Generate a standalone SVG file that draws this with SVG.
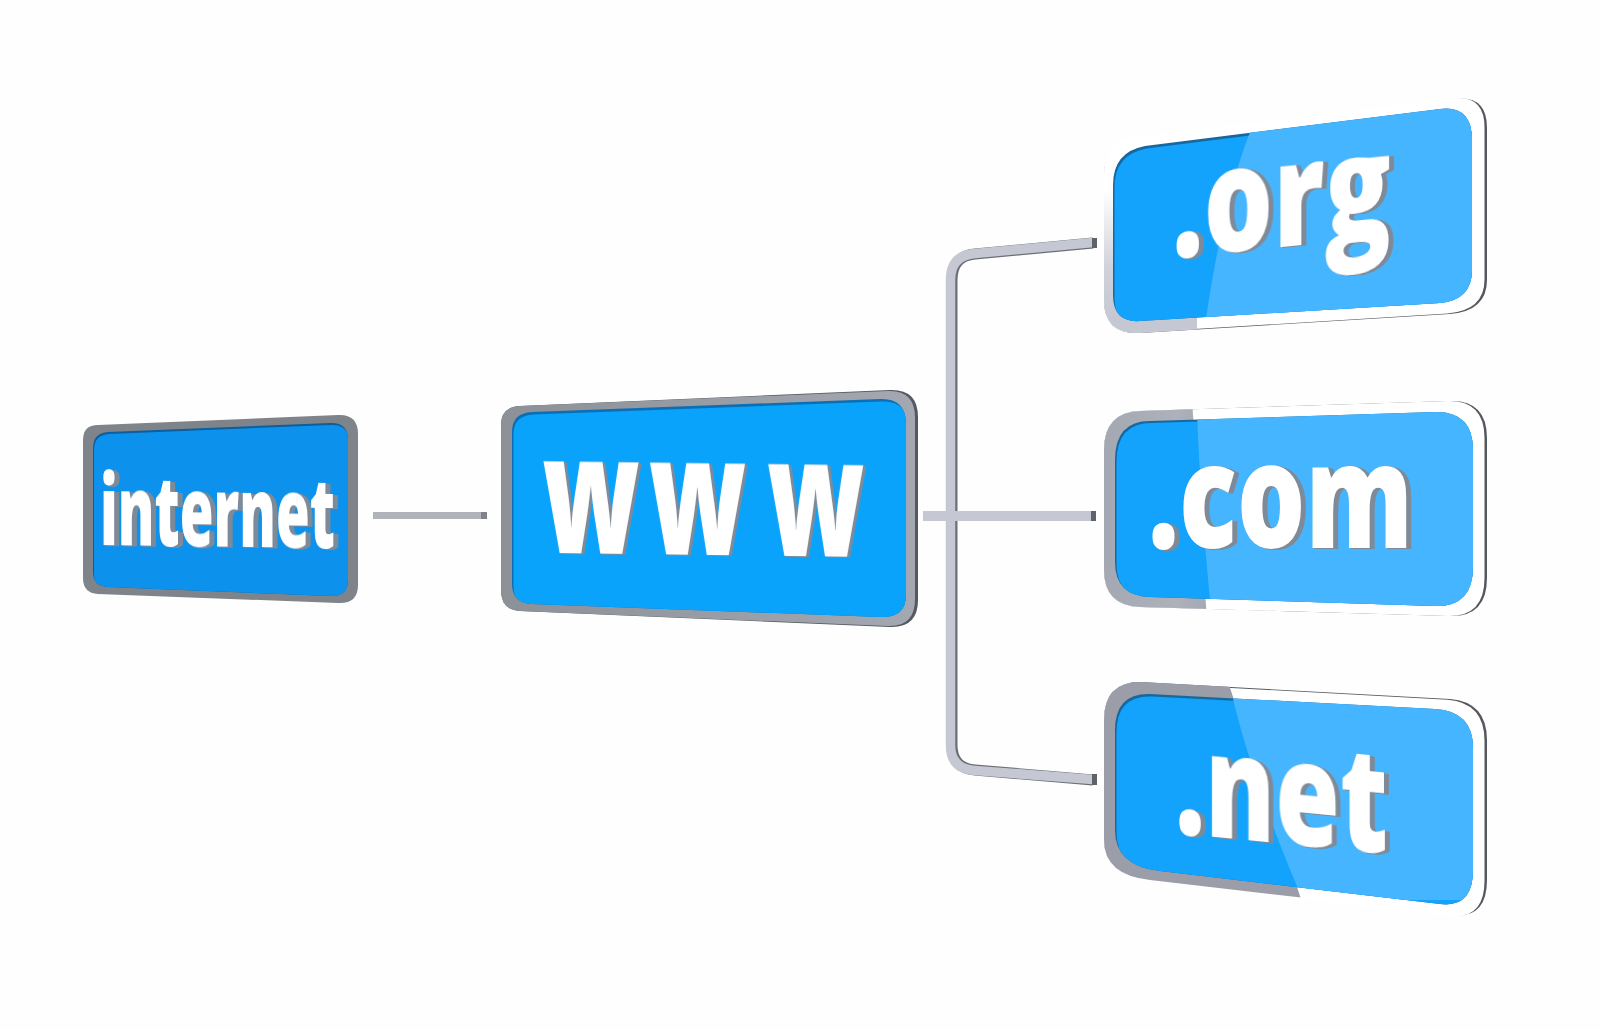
<svg xmlns="http://www.w3.org/2000/svg" width="1600" height="1029" viewBox="0 0 1600 1029">
<style>
.lbl{font-family:"Open Sans","Liberation Sans",sans-serif;font-weight:800;fill:#fff;filter:url(#extrude)}
.white{fill:#fff}
.edge{fill:#55595f}
.shade{fill:#15699f}
.blue{fill:#14a3fc}
.light{fill:#46b5ff}
.tube{fill:none;stroke-linejoin:round}
</style>
<defs>
<filter id="extrude" x="-5%" y="-5%" width="115%" height="115%" color-interpolation-filters="sRGB">
<feFlood flood-color="#7f8a98"/>
<feComposite in2="SourceAlpha" operator="in" result="c"/>
<feOffset in="c" dx="1.2" dy="0.3" result="a"/>
<feOffset in="c" dx="2.4" dy="0.6" result="b"/>
<feOffset in="c" dx="3.6" dy="0.9" result="d"/>
<feOffset in="c" dx="4.8" dy="1.2" result="e"/>
<feMerge><feMergeNode in="a"/><feMergeNode in="b"/><feMergeNode in="d"/><feMergeNode in="e"/><feMergeNode in="SourceGraphic"/></feMerge>
</filter>
<linearGradient id="orgEdge" x1="0" y1="190" x2="0" y2="320" gradientUnits="userSpaceOnUse"><stop offset="0" stop-color="#fff"/><stop offset="0.6" stop-color="#cfd2da"/><stop offset="1" stop-color="#c5c8d2"/></linearGradient>
<linearGradient id="comEdge" x1="1104" y1="0" x2="1207" y2="0" gradientUnits="userSpaceOnUse"><stop offset="0" stop-color="#a4a8b2"/><stop offset="0.7" stop-color="#adb1ba"/><stop offset="1" stop-color="#a6a9b3"/></linearGradient>
<linearGradient id="wwwFrame" x1="501" y1="0" x2="918" y2="0" gradientUnits="userSpaceOnUse"><stop offset="0" stop-color="#8c9097"/><stop offset="1" stop-color="#a4a8b2"/></linearGradient>
<clipPath id="cInternet"><path d="M93 448Q93 433 108 432L330 423Q348 422 348 440V580Q348 597 330 596L108 587Q93 586 93 572Z"/></clipPath>
<clipPath id="cWww"><path d="M512 432Q512 413 532 412L880 399Q906 398 906 424V595Q906 618 880 617L532 604Q512 603 512 584Z"/></clipPath>
<clipPath id="cOrg"><path d="M1113 185Q1113 152 1145 146L1440 109Q1472 105 1472 140V270Q1472 300 1440 303L1140 321Q1113 323 1113 295Z"/></clipPath>
<clipPath id="cCom"><path d="M1115 460Q1115 421 1150 421L1435 412Q1473 411 1473 450V567Q1473 607 1435 606L1150 597Q1115 596 1115 562Z"/></clipPath>
<clipPath id="cNet"><path d="M1115 730Q1115 693 1150 694L1435 709Q1473 711 1473 748V870Q1473 908 1440 904L1160 871Q1115 866 1115 830Z"/></clipPath>
<clipPath id="gOrg"><rect x="1100" y="90" width="97" height="250"/></clipPath>
<clipPath id="gCom"><polygon points="1100,400 1192,400 1207,620 1100,620"/></clipPath>
<clipPath id="gNet"><polygon points="1100,670 1224,670 1303,905 1100,905"/></clipPath>
</defs>
<rect width="1600" height="1029" fill="#fefefe"/>
<g id="connectors">
<rect x="373" y="512" width="108" height="7" fill="#b0b4ba"/>
<rect x="481" y="512" width="6" height="7" fill="#7f8388"/>
<path class="tube" stroke="#6a6e75" stroke-width="11" d="M1093 243L975 254Q952 256 952 280V745Q952 768 975 770L1093 780"/>
<path class="tube" stroke="#c5c8d2" stroke-width="9.5" d="M1093 242.5L975 253.5Q950.5 255.5 950.5 280V745Q950.5 769 975 770.5L1093 779.5"/>
<rect x="1092" y="238" width="5" height="10" fill="#5f6369"/>
<rect x="1092" y="774" width="5" height="11" fill="#5f6369"/>
<rect x="923" y="511" width="169" height="10" fill="#c5c8d2"/>
<rect x="1091" y="511" width="5" height="10" fill="#5f6369"/>
</g>
<g id="node-internet">
<path fill="#7f848a" d="M83 440Q83 425 98 425L338 415Q358 414 358 434V585Q358 604 338 603L98 594Q83 593 83 578Z"/>
<g clip-path="url(#cInternet)">
<rect x="90" y="420" width="260" height="180" fill="#0b5f9e"/>
<path fill="#0c92ec" transform="translate(1,2)" d="M93 448Q93 433 108 432L330 423Q348 422 348 440V580Q348 597 330 596L108 587Q93 586 93 572Z"/>
</g>
<text class="lbl" transform="matrix(1,0.013,0,1,100,545)" font-size="98" textLength="235" lengthAdjust="spacingAndGlyphs">internet</text>
</g>
<g id="node-www">
<path fill="#55595f" d="M501 425Q501 407 520 406L890 390Q918 389 918 417V600Q918 628 890 627L520 611Q501 610 501 590Z"/>
<path fill="url(#wwwFrame)" d="M501 425Q501 407 520 406L888 391Q915 390 915 418V599Q915 627 888 626L520 611Q501 610 501 590Z"/>
<g clip-path="url(#cWww)">
<rect x="505" y="395" width="405" height="225" fill="#0b6fb5"/>
<path fill="#0aa3fc" transform="translate(1.5,2.5)" d="M512 432Q512 413 532 412L880 399Q906 398 906 424V595Q906 618 880 617L532 604Q512 603 512 584Z"/>
</g>
<text class="lbl" transform="matrix(0.65,0.0082,0,1,0,0)" font-size="165" x="834 998 1180" y="546">www</text>
</g>
<g id="node-org">
<path class="edge" d="M1104 175Q1104 142 1140 137L1455 99Q1487 95 1487 128V280Q1487 311 1450 314L1140 333Q1104 335 1104 300Z"/>
<path class="white" transform="translate(-2.5,-0.5)" d="M1106.5 175Q1106.5 142 1140 137L1455 99Q1487 95 1487 128V280Q1487 311 1450 314L1140 333Q1106.5 335 1106.5 300Z"/>
<path fill="url(#orgEdge)" clip-path="url(#gOrg)" d="M1104 175Q1104 142 1140 137L1455 99Q1487 95 1487 128V280Q1487 311 1450 314L1140 333Q1104 335 1104 300Z"/>
<g clip-path="url(#cOrg)">
<rect x="1100" y="95" width="380" height="235" class="shade"/>
<path class="blue" transform="translate(1.5,2.5)" d="M1113 185Q1113 152 1145 146L1440 109Q1472 105 1472 140V270Q1472 300 1440 303L1140 321Q1113 323 1113 295Z"/>
<path class="light" d="M1253 125Q1225 190 1205 325H1480V100Z"/>
</g>
<text class="lbl" transform="matrix(1,-0.1,0,1,1172,258)" font-size="146" textLength="219" lengthAdjust="spacingAndGlyphs">.org</text>
</g>
<g id="node-com">
<path class="edge" d="M1104 450Q1104 412 1140 411L1450 401Q1487 400 1487 438V578Q1487 617 1450 616L1140 607Q1104 606 1104 570Z"/>
<path class="white" transform="translate(-2.5,0)" d="M1106.5 450Q1106.5 412 1140 411L1450 401Q1487 400 1487 438V578Q1487 617 1450 616L1140 607Q1106.5 606 1106.5 570Z"/>
<path fill="url(#comEdge)" clip-path="url(#gCom)" d="M1104 450Q1104 412 1140 411L1450 401Q1487 400 1487 438V578Q1487 617 1450 616L1140 607Q1104 606 1104 570Z"/>
<g clip-path="url(#cCom)">
<rect x="1110" y="405" width="370" height="205" class="shade"/>
<path class="blue" transform="translate(1.5,2)" d="M1115 460Q1115 421 1150 421L1435 412Q1473 411 1473 450V567Q1473 607 1435 606L1150 597Q1115 596 1115 562Z"/>
<path class="light" d="M1197 410Q1200 500 1211 610H1480V405Z"/>
</g>
<text class="lbl" transform="translate(1148,548)" font-size="146" textLength="265" lengthAdjust="spacingAndGlyphs">.com</text>
</g>
<g id="node-net">
<path class="edge" d="M1104 720Q1104 682 1140 682L1450 699Q1487 702 1487 740V880Q1487 920 1450 915L1150 880Q1104 875 1104 840Z"/>
<path class="white" transform="translate(-2.5,0.8)" d="M1106.5 720Q1106.5 682 1140 682L1450 699Q1487 702 1487 740V880Q1487 920 1450 915L1150 880Q1106.5 875 1106.5 840Z"/>
<path fill="#9b9ea8" clip-path="url(#gNet)" d="M1104 720Q1104 682 1140 682L1450 699Q1487 702 1487 740V880Q1487 920 1450 915L1150 880Q1104 875 1104 840Z"/>
<g clip-path="url(#cNet)">
<rect x="1110" y="685" width="370" height="225" class="shade"/>
<path class="blue" transform="translate(1.5,2.5)" d="M1115 730Q1115 693 1150 694L1435 709Q1473 711 1473 748V870Q1473 908 1440 904L1160 871Q1115 866 1115 830Z"/>
<path class="light" d="M1232 695Q1255 790 1303 900H1480V700Z"/>
</g>
<text class="lbl" transform="matrix(1,0.098,0,1,1175,833)" font-size="146" textLength="213" lengthAdjust="spacingAndGlyphs">.net</text>
</g>
</svg>
